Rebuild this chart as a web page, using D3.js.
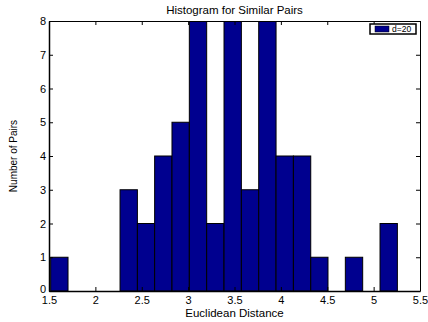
<!DOCTYPE html>
<html>
<head>
<meta charset="utf-8">
<script src="https://cdn.jsdelivr.net/npm/d3@7"></script>
<style>
  body { margin: 0; background: #fff; }
  text { font-family: "Liberation Sans", Arial, Helvetica, sans-serif; fill: #000; }
</style>
</head>
<body>
<div id="visualization"></div>
<script>
// bin edges (21) and counts (20)
const binEdges = [1.518, 1.705, 1.892, 2.079, 2.266, 2.453, 2.639, 2.826, 3.013, 3.2,
  3.387, 3.574, 3.761, 3.948, 4.135, 4.322, 4.508, 4.695, 4.882, 5.069, 5.256];
const counts = [1, 0, 0, 0, 3, 2, 4, 5, 8, 2, 8, 3, 8, 4, 4, 1, 0, 1, 0, 2];
const xTicks = [1.5, 2, 2.5, 3, 3.5, 4, 4.5, 5, 5.5];
const yTicks = [0, 1, 2, 3, 4, 5, 6, 7, 8];
const seriesName = "d=20";

function buildHistogram() {
  const svgWidth = 428;
  const svgHeight = 322;
  const margin = { top: 21, right: 8, bottom: 31, left: 49 };
  const barColor = "#00008f";

  const svg = d3
    .select("#visualization")
    .append("svg")
    .attr("width", svgWidth)
    .attr("height", svgHeight);

  const xScale = d3
    .scaleLinear()
    .domain([1.5, 5.5])
    .range([margin.left, svgWidth - margin.right]);

  const yScale = d3
    .scaleLinear()
    .domain([0, 8])
    .range([svgHeight - margin.bottom, margin.top]);

  const bins = counts.map((c, i) => ({ x0: binEdges[i], x1: binEdges[i + 1], count: c }));

  svg.append("clipPath")
    .attr("id", "plot-clip")
    .append("rect")
    .attr("x", margin.left)
    .attr("y", margin.top)
    .attr("width", xScale(5.5) - xScale(1.5))
    .attr("height", yScale(0) - yScale(8));

  svg.append("g")
    .attr("clip-path", "url(#plot-clip)")
    .selectAll("rect")
    .data(bins)
    .join("rect")
    .attr("x", d => xScale(d.x0))
    .attr("y", d => yScale(d.count))
    .attr("width", d => xScale(d.x1) - xScale(d.x0))
    .attr("height", d => yScale(0) - yScale(d.count))
    .attr("fill", barColor)
    .attr("stroke", "#000")
    .attr("stroke-width", 1);

  // axes, ticks pointing inwards like matlab
  const tickLen = 4;

  const gx = svg.append("g")
    .attr("transform", `translate(0,${yScale(0)})`)
    .call(d3.axisBottom(xScale).tickValues(xTicks).tickSizeInner(-tickLen).tickSizeOuter(0));
  gx.select(".domain").attr("stroke-width", 1.5);
  gx.selectAll(".tick text")
    .attr("y", 5)
    .attr("dy", "0.71em")
    .style("font-size", "11px")
    .text(d => d);

  const gxTop = svg.append("g")
    .attr("transform", `translate(0,${yScale(8)})`)
    .call(d3.axisTop(xScale).tickValues(xTicks).tickSizeInner(-tickLen).tickSizeOuter(0).tickFormat(""));
  gxTop.select(".domain").attr("stroke-width", 1);

  const gy = svg.append("g")
    .attr("transform", `translate(${xScale(1.5)},0)`)
    .call(d3.axisLeft(yScale).tickValues(yTicks).tickSizeInner(-tickLen).tickSizeOuter(0));
  gy.select(".domain").attr("stroke-width", 1.5);
  gy.selectAll(".tick text")
    .attr("x", -3)
    .attr("y", d => (d === 0 ? -2 : 0))
    .style("font-size", "11px");

  const gyRight = svg.append("g")
    .attr("transform", `translate(${xScale(5.5)},0)`)
    .call(d3.axisRight(yScale).tickValues(yTicks).tickSizeInner(-tickLen).tickSizeOuter(0).tickFormat(""));
  gyRight.select(".domain").attr("stroke-width", 1);

  svg.selectAll(".tick line").attr("stroke", "#000");
  svg.selectAll(".domain").attr("stroke", "#000");

  // titles
  const cx = (xScale(1.5) + xScale(5.5)) / 2;
  svg.append("text")
    .attr("x", cx)
    .attr("y", 14)
    .attr("text-anchor", "middle")
    .style("font-size", "11.5px")
    .text("Histogram for Similar Pairs");

  svg.append("text")
    .attr("x", cx)
    .attr("y", 317)
    .attr("text-anchor", "middle")
    .style("font-size", "11.5px")
    .text("Euclidean Distance");

  svg.append("text")
    .attr("transform", `translate(17,${(yScale(0) + yScale(8)) / 2}) rotate(-90)`)
    .attr("text-anchor", "middle")
    .style("font-size", "10px")
    .text("Number of Pairs");

  // legend
  const legend = svg.append("g").attr("transform", "translate(370,24)");
  legend.append("rect")
    .attr("width", 46)
    .attr("height", 10)
    .attr("fill", "#fff")
    .attr("stroke", "#000")
    .attr("stroke-width", 1.5);
  legend.append("rect")
    .attr("x", 5)
    .attr("y", 2)
    .attr("width", 14)
    .attr("height", 6)
    .attr("fill", barColor)
    .attr("stroke", "#000")
    .attr("stroke-width", 0.5);
  legend.append("text")
    .attr("x", 22)
    .attr("y", 8.3)
    .style("font-size", "8.5px")
    .text(seriesName);
}

buildHistogram();
</script>
</body>
</html>
